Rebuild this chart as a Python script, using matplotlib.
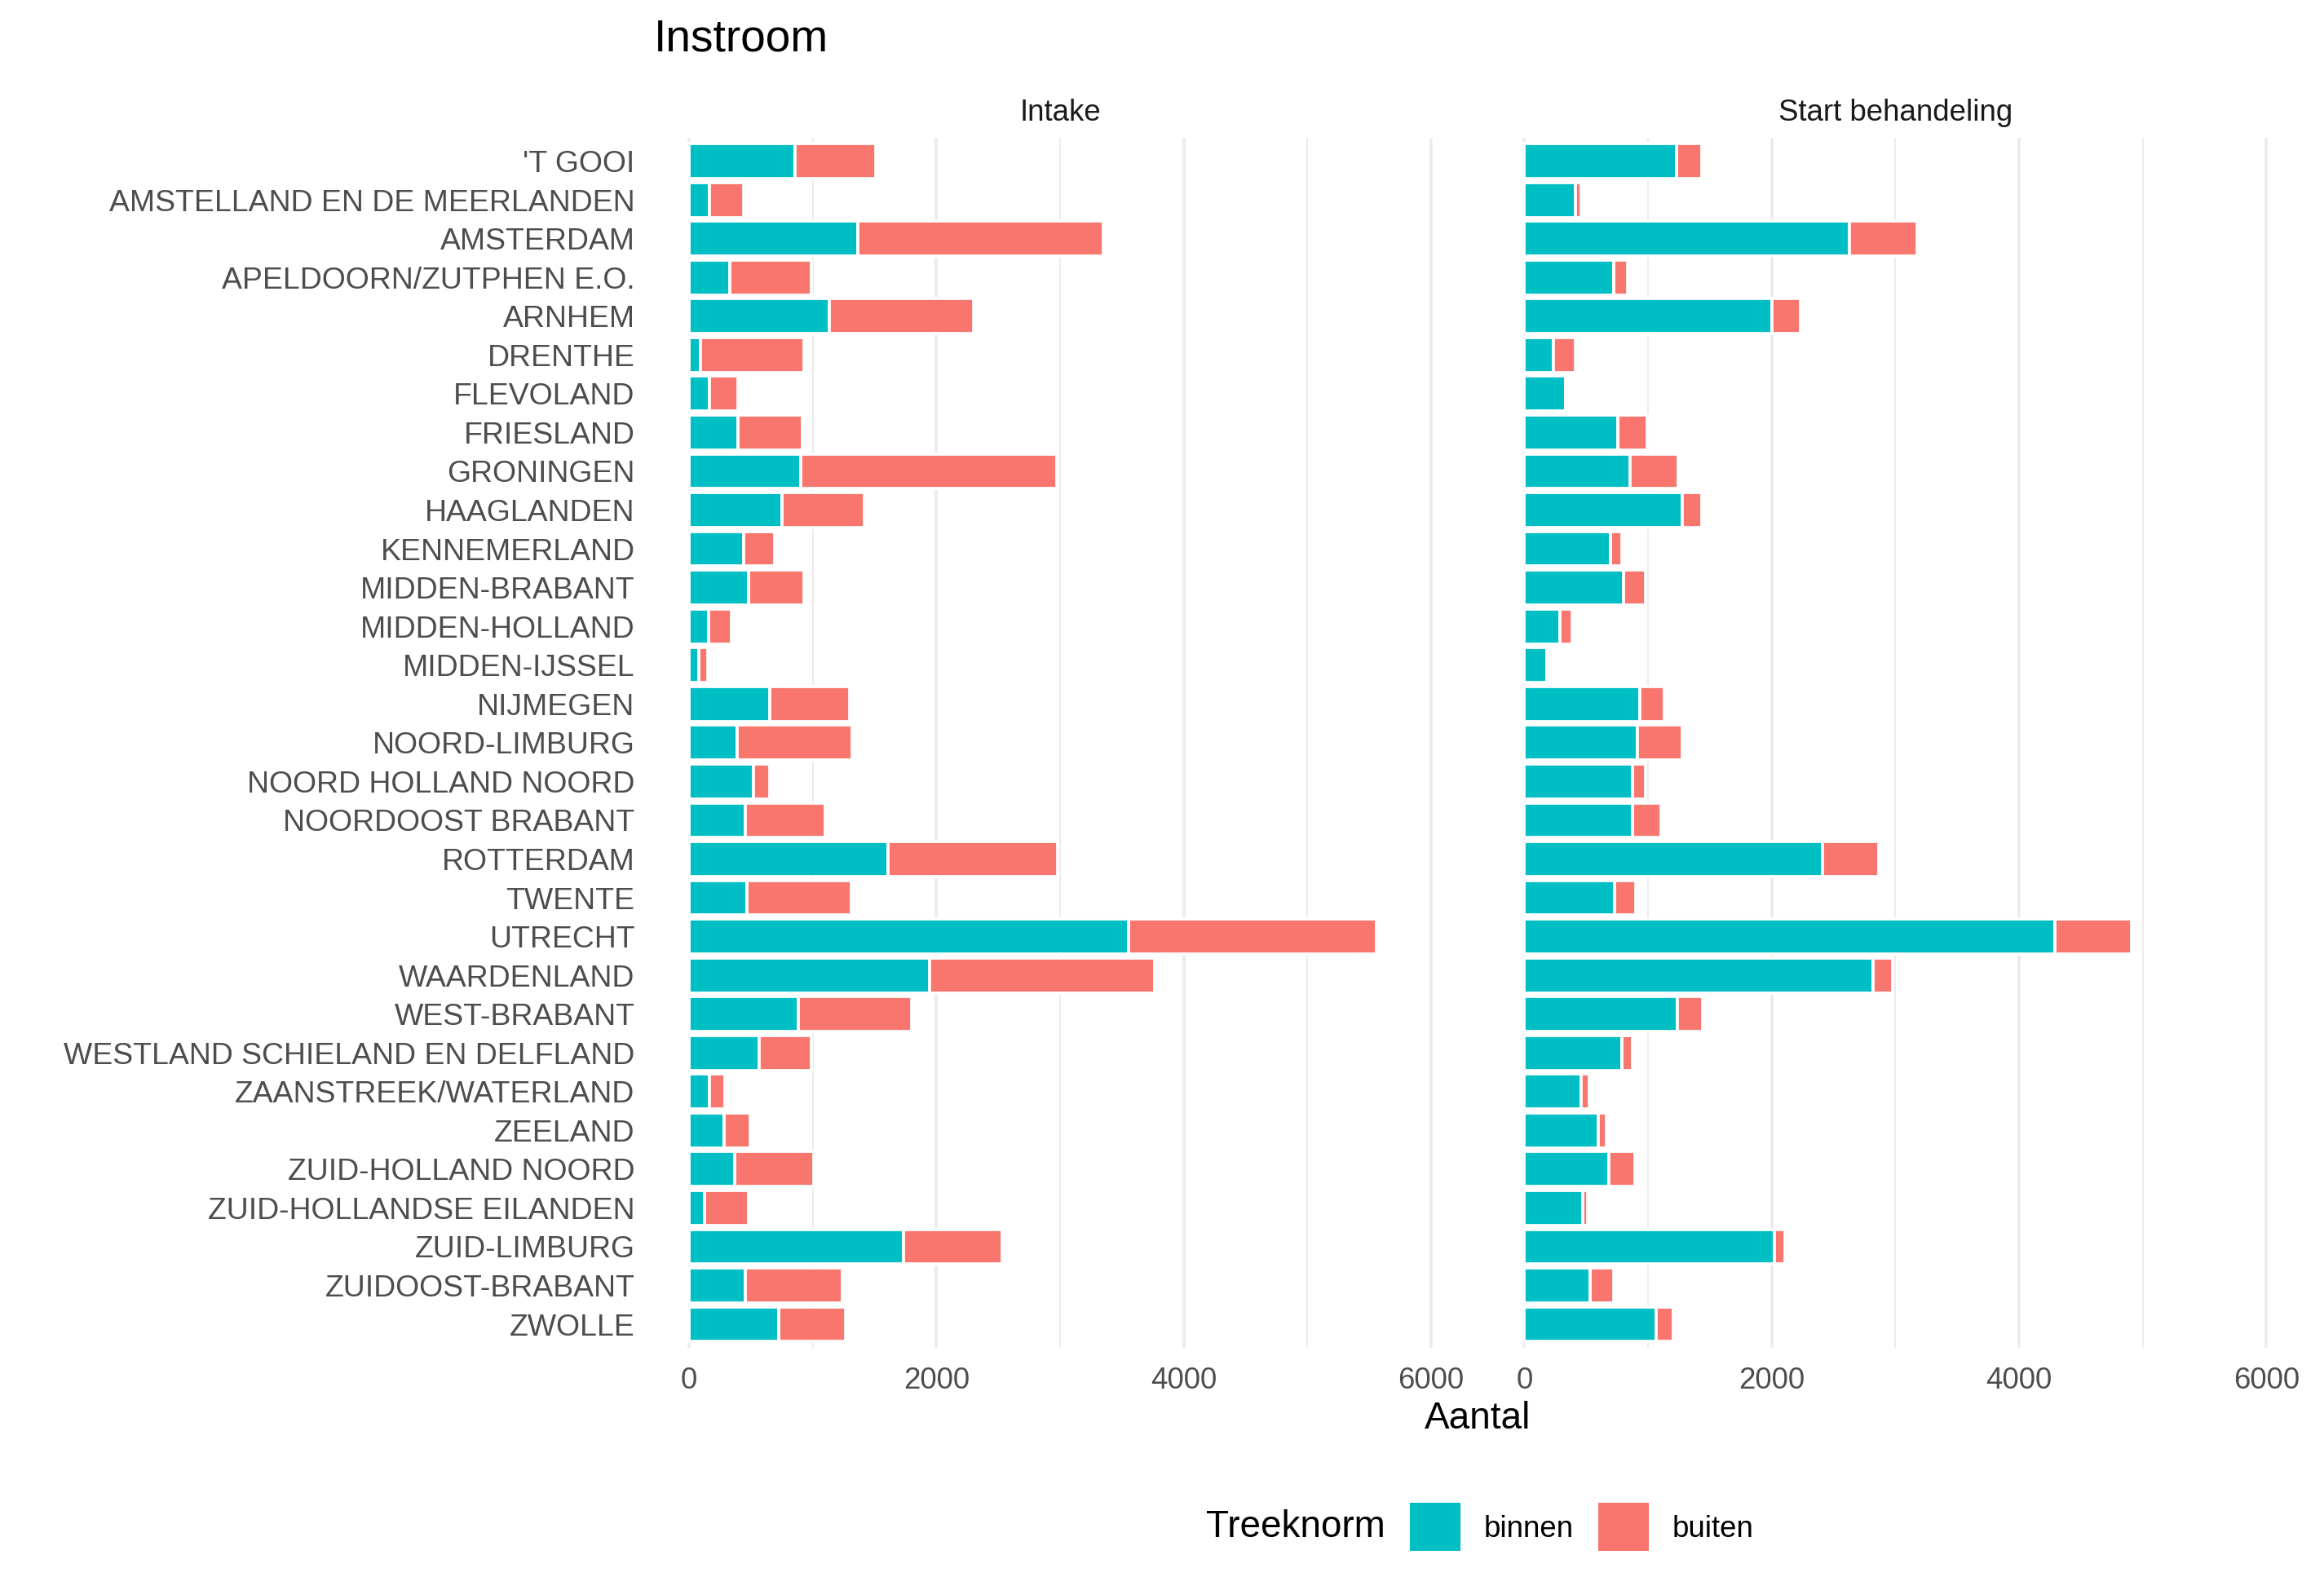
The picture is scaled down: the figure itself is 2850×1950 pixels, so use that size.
import numpy as np
import matplotlib
matplotlib.use('Agg')
import matplotlib.pyplot as plt
from matplotlib.patches import Patch

plt.rcParams['font.family'] = ['Liberation Sans', 'DejaVu Sans']

############ data ############

regios = ["'T GOOI", "AMSTELLAND EN DE MEERLANDEN", "AMSTERDAM", "APELDOORN/ZUTPHEN E.O.",
          "ARNHEM", "DRENTHE", "FLEVOLAND", "FRIESLAND", "GRONINGEN", "HAAGLANDEN",
          "KENNEMERLAND", "MIDDEN-BRABANT", "MIDDEN-HOLLAND", "MIDDEN-IJSSEL", "NIJMEGEN",
          "NOORD-LIMBURG", "NOORD HOLLAND NOORD", "NOORDOOST BRABANT", "ROTTERDAM", "TWENTE",
          "UTRECHT", "WAARDENLAND", "WEST-BRABANT", "WESTLAND SCHIELAND EN DELFLAND",
          "ZAANSTREEK/WATERLAND", "ZEELAND", "ZUID-HOLLAND NOORD", "ZUID-HOLLANDSE EILANDEN",
          "ZUID-LIMBURG", "ZUIDOOST-BRABANT", "ZWOLLE"]

intake_binnen = [855, 168, 1364, 327, 1133, 96, 168, 399, 906, 751, 441, 479, 157, 78, 653,
                 388, 524, 452, 1606, 467, 3551, 1943, 887, 566, 168, 282, 369, 123, 1731, 452, 725]
intake_buiten = [655, 273, 1983, 659, 1166, 833, 227, 515, 2066, 670, 249, 450, 185, 71, 643,
                 934, 132, 647, 1374, 844, 2005, 1820, 916, 420, 125, 212, 639, 356, 798, 787, 541]

start_binnen = [1229, 412, 2631, 722, 2000, 234, 333, 752, 853, 1274, 696, 802, 287, 181, 930,
                911, 877, 873, 2408, 726, 4291, 2817, 1236, 786, 457, 597, 680, 469, 2019, 529, 1062]
start_buiten = [204, 45, 541, 110, 234, 178, 0, 240, 387, 159, 91, 177, 99, 0, 200,
                363, 102, 232, 454, 174, 620, 162, 208, 87, 64, 65, 212, 40, 87, 193, 140]

panels = ['Intake', 'Start behandeling']
x_ticks = [0, 2000, 4000, 6000]
x_minor = [1000, 3000, 5000]

kleur_binnen = '#00BFC4'
kleur_buiten = '#F8766D'

############ plot ############

fig = plt.figure(figsize=(9.5, 6.5), dpi=300)
bottom, top = 0.1525, 0.9133
ax1 = fig.add_axes([0.2805, bottom, 0.6318 - 0.2805, top - bottom])
ax2 = fig.add_axes([0.6400, bottom, 0.9912 - 0.6400, top - bottom])

y = np.arange(len(regios))
data = [(intake_binnen, intake_buiten), (start_binnen, start_buiten)]

for ax, naam, (binnen, buiten) in zip([ax1, ax2], panels, data):
    binnen = np.array(binnen)
    buiten = np.array(buiten)
    ax.barh(y, binnen, height=0.9, color=kleur_binnen, edgecolor='white', linewidth=0.9)
    ax.barh(y, buiten, left=binnen, height=0.9, color=kleur_buiten, edgecolor='white', linewidth=0.9)
    ax.set_xlim(-300, 6300)
    ax.set_ylim(len(regios) - 0.4, -0.6)
    ax.set_xticks(x_ticks)
    ax.set_xticks(x_minor, minor=True)
    ax.grid(axis='x', which='major', color='#EBEBEB', linewidth=0.85)
    ax.grid(axis='x', which='minor', color='#EBEBEB', linewidth=0.45)
    ax.grid(axis='y', visible=False)
    ax.set_axisbelow(True)
    for s in ax.spines.values():
        s.set_visible(False)
    ax.tick_params(axis='both', which='both', length=0, labelsize=8.8, labelcolor='#4D4D4D')
    ax.tick_params(axis='x', pad=5.5)
    ax.tick_params(axis='y', pad=5.0, labelsize=8.97)
    ax.text(0.5, 1.0205, naam, transform=ax.transAxes, ha='center', va='center',
            fontsize=8.8, color='#1A1A1A')

ax1.set_yticks(y)
ax1.set_yticklabels(regios)
ax2.set_yticks(y)
ax2.set_yticklabels([])

fig.text(0.2812, 0.9677, 'Instroom', fontsize=13.2, ha='left', va='baseline')
fig.text(0.6358, 0.1077, 'Aantal', fontsize=11, ha='center', va='center')

# legend
fig.text(0.519, 0.0395, 'Treeknorm', fontsize=11, ha='left', va='center')
handles = [Patch(facecolor=kleur_binnen, edgecolor='none'),
           Patch(facecolor=kleur_buiten, edgecolor='none')]
fig.legend(handles, ['binnen', 'buiten'], loc='center left', bbox_to_anchor=(0.6067, 0.0395),
           ncol=2, frameon=False, fontsize=8.8, handlelength=1.69, handleheight=2.1,
           handletextpad=0.78, columnspacing=0.82, borderpad=0, borderaxespad=0)

plt.savefig('out.png', dpi=300, facecolor='white')
